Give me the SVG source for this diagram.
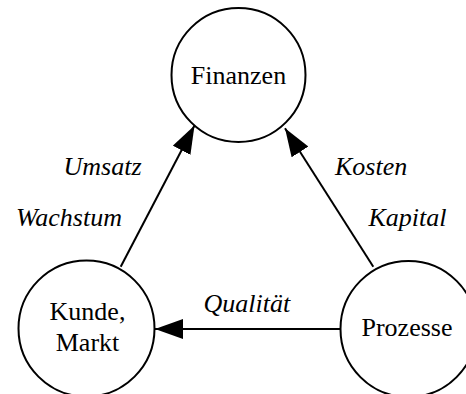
<svg xmlns="http://www.w3.org/2000/svg" width="466" height="394" viewBox="0 0 466 394">
<style>
.node{fill:#fff;stroke:#000;stroke-width:2}
.t{font-family:"Liberation Serif","Times New Roman",serif;font-size:26px;fill:#000;text-anchor:middle}
.l{font-family:"Liberation Serif","Times New Roman",serif;font-size:26px;font-style:italic;fill:#000}
.c{stroke:#000;stroke-width:2;fill:none}
</style>
<defs>
<marker id="ah" markerWidth="28" markerHeight="20" refX="28" refY="10" orient="auto" markerUnits="userSpaceOnUse">
<path d="M0,0 L28,10 L0,20 Z" fill="#000"/>
</marker>
</defs>
<g id="connectors">
<line class="c" x1="120.7" y1="266.7" x2="194.5" y2="125.5" marker-end="url(#ah)"/>
<line class="c" x1="373.3" y1="266.7" x2="285" y2="128.3" marker-end="url(#ah)"/>
<line class="c" x1="340.5" y1="329" x2="155" y2="329" marker-end="url(#ah)"/>
<text class="l" x="63.5" y="175">Umsatz</text>
<text class="l" x="16" y="226">Wachstum</text>
<text class="l" x="335" y="175">Kosten</text>
<text class="l" x="368.5" y="226">Kapital</text>
<text class="l" x="203.5" y="311.5">Qualität</text>
</g>
<g id="finanzen">
<circle class="node" cx="238.5" cy="75" r="67"/>
<text class="t" x="238.5" y="83.5">Finanzen</text>
</g>
<g id="kunde">
<circle class="node" cx="86.5" cy="328.5" r="68"/>
<text class="t" x="87.5" y="320">Kunde,</text>
<text class="t" x="87.5" y="351">Markt</text>
</g>
<g id="prozesse">
<circle class="node" cx="408.5" cy="329" r="68"/>
<text class="t" x="407" y="336">Prozesse</text>
</g>
</svg>
